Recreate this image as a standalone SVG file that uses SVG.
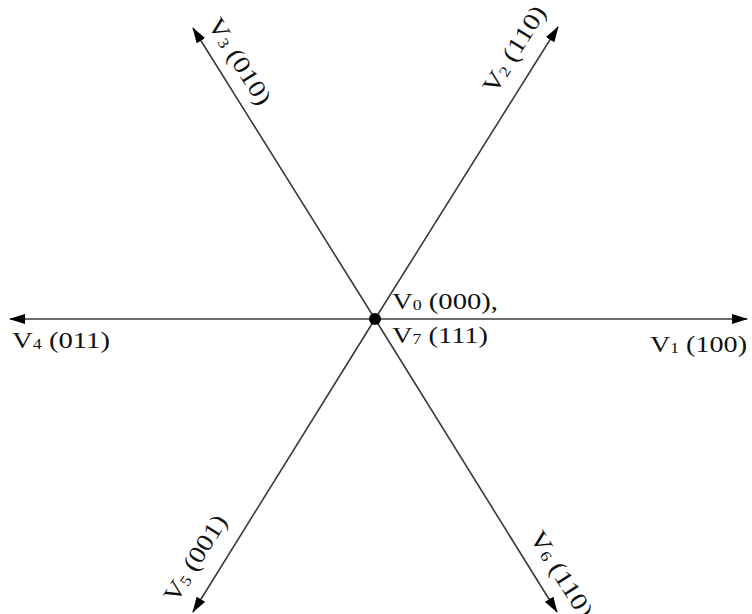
<svg xmlns="http://www.w3.org/2000/svg" width="752" height="614" viewBox="0 0 752 614">
<style>
.ln{stroke:#3a3a3a;stroke-width:1.6;fill:none;marker-end:url(#ah)}
.lb{font-family:"Liberation Serif","Times New Roman",serif;font-size:24px;fill:#111}
.sb{font-size:15px}
</style>
<defs>
<marker id="ah" viewBox="0 0 16 10" refX="15" refY="5" markerWidth="16" markerHeight="10" markerUnits="userSpaceOnUse" orient="auto">
<path d="M0,0 L16,5 L0,10 Z" fill="#000"/>
</marker>
</defs>
<rect width="752" height="614" fill="#fff"/>
<g id="connectors">
<line class="ln" x1="375" y1="319" x2="747" y2="319"/>
<line class="ln" x1="375" y1="319" x2="10" y2="319"/>
<line class="ln" x1="375" y1="319" x2="558" y2="27"/>
<line class="ln" x1="375" y1="319" x2="193" y2="28"/>
<line class="ln" x1="375" y1="319" x2="193" y2="612"/>
<line class="ln" x1="375" y1="319" x2="557" y2="612"/>
</g>
<g id="origin">
<circle cx="375" cy="319" r="6" fill="#000"/>
<text class="lb" x="392" y="309" textLength="106" lengthAdjust="spacingAndGlyphs">V<tspan class="sb" dy="1">0</tspan><tspan dy="-1"> (000),</tspan></text>
<text class="lb" x="392" y="343" textLength="96" lengthAdjust="spacingAndGlyphs">V<tspan class="sb" dy="1">7</tspan><tspan dy="-1"> (111)</tspan></text>
</g>
<g id="v1">
<text class="lb" x="650" y="352" textLength="97" lengthAdjust="spacingAndGlyphs">V<tspan class="sb" dy="1">1</tspan><tspan dy="-1"> (100)</tspan></text>
</g>
<g id="v4">
<text class="lb" x="12" y="348" textLength="98" lengthAdjust="spacingAndGlyphs">V<tspan class="sb" dy="1">4</tspan><tspan dy="-1"> (011)</tspan></text>
</g>
<g id="v2">
<text class="lb" transform="translate(495,95) rotate(-58)" textLength="98" lengthAdjust="spacingAndGlyphs">V<tspan class="sb" dy="1">2</tspan><tspan dy="-1"> (110)</tspan></text>
</g>
<g id="v3">
<text class="lb" transform="translate(207,24) rotate(58)" textLength="98" lengthAdjust="spacingAndGlyphs">V<tspan class="sb" dy="1">3</tspan><tspan dy="-1"> (010)</tspan></text>
</g>
<g id="v5">
<text class="lb" transform="translate(176,604) rotate(-58)" textLength="98" lengthAdjust="spacingAndGlyphs">V<tspan class="sb" dy="1">5</tspan><tspan dy="-1"> (001)</tspan></text>
</g>
<g id="v6">
<text class="lb" transform="translate(529,537) rotate(58)" textLength="98" lengthAdjust="spacingAndGlyphs">V<tspan class="sb" dy="1">6</tspan><tspan dy="-1"> (110)</tspan></text>
</g>
</svg>
